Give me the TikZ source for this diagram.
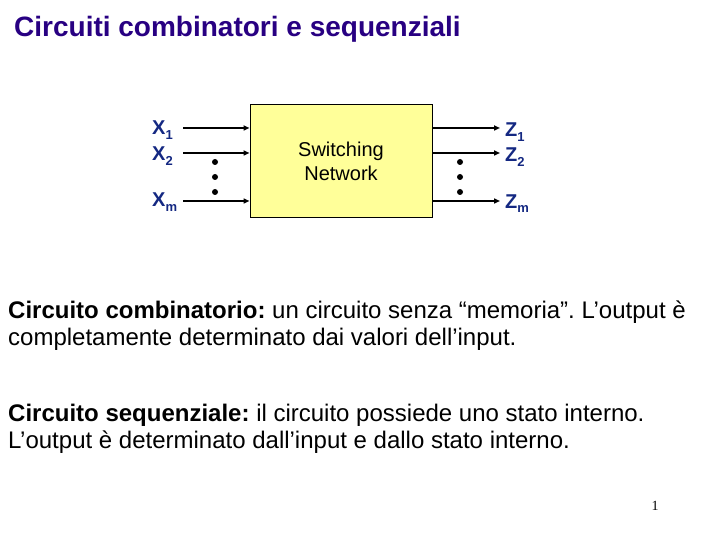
\documentclass[tikz,border=0pt]{standalone}
\usepackage{fontspec}
\setmainfont{Liberation Sans}
\usetikzlibrary{arrows.meta}
\definecolor{titlecol}{RGB}{40,0,130}
\definecolor{labcol}{RGB}{20,40,130}
\definecolor{boxfill}{RGB}{255,255,153}
\newcommand{\lsub}[1]{\raisebox{-5pt}{\fontsize{13}{13}\selectfont #1}}
\tikzset{
  sig/.style={line width=1.6pt,-{Triangle[length=6pt,width=5pt]}},
  lab/.style={text=labcol,font=\fontsize{20}{22}\selectfont\bfseries,inner sep=0pt},
  dotmark/.style={circle,fill=black,inner sep=0pt,minimum size=6pt},
  para/.style={anchor=base west,inner sep=0pt,font=\fontsize{24}{28}\selectfont\frenchspacing}
}
\begin{document}
\begin{tikzpicture}[x=1pt,y=-1pt]
\useasboundingbox (0,0) rectangle (720,540);
\node[anchor=base west,inner sep=0pt,text=titlecol,font=\fontsize{28}{32}\selectfont\bfseries] (title) at (14,37) {Circuiti combinatori e sequenziali};
\node[draw=black,line width=1pt,fill=boxfill,minimum width=182pt,minimum height=113pt,inner sep=0pt,align=center,font=\fontsize{20}{24}\selectfont] (box) at (341,161.5) {Switching\\Network};
% input labels
\node[lab,anchor=base west] (x1) at (152,135) {X\lsub{1}};
\node[lab,anchor=base west] (x2) at (152,161) {X\lsub{2}};
\node[lab,anchor=base west] (xm) at (152,207) {X\lsub{m}};
\coordinate (i1) at (183,128);
\coordinate (i2) at (183,153);
\coordinate (im) at (183,201);
\draw[sig] (i1) -- (i1 -| box.west);
\draw[sig] (i2) -- (i2 -| box.west);
\draw[sig] (im) -- (im -| box.west);
\node[dotmark] (d1) at (215,162) {};
\node[dotmark] (d2) at (215,177) {};
\node[dotmark] (d3) at (215,192) {};
% outputs
\node[lab,anchor=base west] (z1) at (505,137) {Z\lsub{1}};
\node[lab,anchor=base west] (z2) at (505,162) {Z\lsub{2}};
\node[lab,anchor=base west] (zm) at (505,208) {Z\lsub{m}};
\coordinate (o1) at (500,128);
\coordinate (o2) at (500,153);
\coordinate (om) at (500,201);
\draw[sig] (o1 -| box.east) -- (o1);
\draw[sig] (o2 -| box.east) -- (o2);
\draw[sig] (om -| box.east) -- (om);
\node[dotmark] (e1) at (460,162) {};
\node[dotmark] (e2) at (460,177) {};
\node[dotmark] (e3) at (460,192) {};
% paragraphs
\node[para] (p1) at (8,318) {\textbf{Circuito combinatorio:} un circuito senza “memoria”. L’output è};
\node[para] (p2) at (8,345) {completamente determinato dai valori dell’input.};
\node[para] (p3) at (8,421) {\textbf{Circuito sequenziale:} il circuito possiede uno stato interno.};
\node[para] (p4) at (8,448) {L’output è determinato dall’input e dallo stato interno.};
\node[anchor=base,inner sep=0pt,font=\fontsize{14}{16}\selectfont] (pg) at (655,510) {\fontspec{Liberation Serif}1};
\end{tikzpicture}
\end{document}
